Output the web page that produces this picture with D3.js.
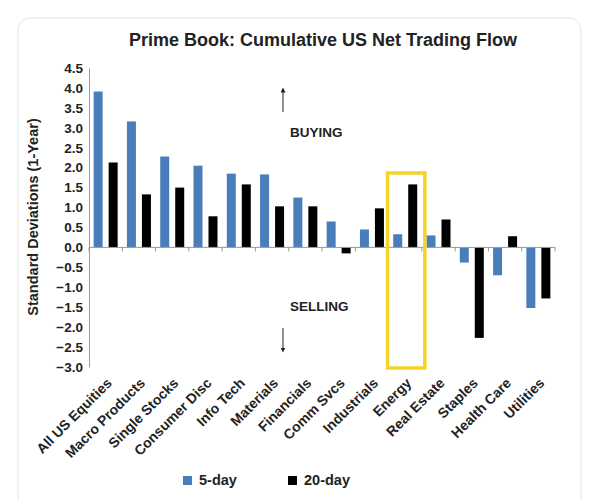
<!DOCTYPE html>
<html lang="en">
<head>
<meta charset="utf-8">
<script src="https://d3js.org/d3.v7.min.js"></script>
<style>
body { margin: 0; background: #fff; font-family: Arial, "Liberation Sans", sans-serif; }
.tick text { font-size: 13.5px; font-weight: bold; fill: #222; }
</style>
</head>
<body>
<div id="vis"></div>
<script>
const categories = ["All US Equities", "Macro Products", "Single Stocks", "Consumer Disc", "Info Tech",
  "Materials", "Financials", "Comm Svcs", "Industrials", "Energy", "Real Estate", "Staples", "Health Care", "Utilities"];
const fiveDay = [3.91, 3.16, 2.28, 2.05, 1.85, 1.83, 1.25, 0.65, 0.45, 0.33, 0.30, -0.38, -0.70, -1.52];
const twentyDay = [2.13, 1.33, 1.50, 0.78, 1.58, 1.03, 1.03, -0.15, 0.98, 1.58, 0.70, -2.27, 0.28, -1.28];
const yTicks = [4.5, 4.0, 3.5, 3.0, 2.5, 2.0, 1.5, 1.0, 0.5, 0.0, -0.5, -1.0, -1.5, -2.0, -2.5, -3.0];
const seriesNames = ["5-day", "20-day"];
const colors = ["#4a7ebb", "#000000"];

const width = 591, height = 500;
const svg = d3.select("#vis").append("svg").attr("width", width).attr("height", height);

svg.append("rect").attr("x", 18).attr("y", 18).attr("width", 563).attr("height", 500)
  .attr("rx", 12).attr("fill", "#fff").attr("stroke", "#e3e3e3");

const x = d3.scaleBand().domain(categories).range([89, 555]);
const y = d3.scaleLinear().domain([-3, 4.5]).range([367, 68]);
const barW = 9;

svg.append("text").attr("x", 323).attr("y", 46).attr("text-anchor", "middle")
  .attr("font-size", 18).attr("font-weight", "bold").attr("fill", "#222")
  .text("Prime Book: Cumulative US Net Trading Flow");

// y axis
const yAxis = svg.append("g").attr("transform", "translate(89,0)")
  .call(d3.axisLeft(y).tickValues(yTicks).tickFormat(d3.format(".1f")).tickSize(0).tickPadding(6));
yAxis.select(".domain").attr("stroke", "#999");

svg.append("text").attr("transform", "translate(38,217) rotate(-90)").attr("text-anchor", "middle")
  .attr("font-size", 14.5).attr("font-weight", "bold").attr("fill", "#222")
  .text("Standard Deviations (1-Year)");

// bars
[fiveDay, twentyDay].forEach((vals, s) => {
  svg.append("g").selectAll("rect").data(vals).enter().append("rect")
    .attr("x", (d, i) => x(categories[i]) + x.bandwidth() / 2 - barW - 3 + s * (barW + 6))
    .attr("y", d => y(Math.max(0, d)))
    .attr("width", barW)
    .attr("height", d => Math.abs(y(d) - y(0)))
    .attr("fill", colors[s]);
});

// zero axis
svg.append("line").attr("x1", 89).attr("x2", 555).attr("y1", y(0)).attr("y2", y(0)).attr("stroke", "#999");
svg.append("g").selectAll("line").data(categories.concat([null])).enter().append("line")
  .attr("x1", (d, i) => 89 + i * x.step()).attr("x2", (d, i) => 89 + i * x.step())
  .attr("y1", y(0)).attr("y2", y(0) + 4).attr("stroke", "#999");

// category labels
svg.append("g").selectAll("text").data(categories).enter().append("text")
  .attr("transform", d => `translate(${x(d) + x.bandwidth() / 2 + 7},384) rotate(-45)`)
  .attr("text-anchor", "end").attr("font-size", 14).attr("font-weight", "bold").attr("fill", "#222")
  .text(d => d);

// annotations
svg.append("defs").append("marker").attr("id", "ah").attr("viewBox", "0 0 10 10")
  .attr("refX", 5).attr("refY", 5).attr("markerWidth", 5).attr("markerHeight", 5).attr("orient", "auto")
  .append("path").attr("d", "M0,0L10,5L0,10z").attr("fill", "#222");
svg.append("line").attr("x1", 283).attr("x2", 283).attr("y1", 112).attr("y2", 90)
  .attr("stroke", "#222").attr("marker-end", "url(#ah)");
svg.append("line").attr("x1", 283).attr("x2", 283).attr("y1", 328).attr("y2", 350)
  .attr("stroke", "#222").attr("marker-end", "url(#ah)");
svg.append("text").attr("x", 290).attr("y", 137).attr("font-size", 13.5).attr("font-weight", "bold").attr("fill", "#222").text("BUYING");
svg.append("text").attr("x", 290).attr("y", 311).attr("font-size", 13.5).attr("font-weight", "bold").attr("fill", "#222").text("SELLING");

// highlight on Energy
svg.append("rect").attr("x", x("Energy") - 1).attr("y", 173).attr("width", x.step() + 4).attr("height", 195)
  .attr("fill", "none").attr("stroke", "#f5d327").attr("stroke-width", 3.5);

// legend
const leg = svg.append("g").selectAll("g").data(seriesNames).enter().append("g")
  .attr("transform", (d, i) => `translate(${183 + i * 105},476)`);
leg.append("rect").attr("width", 9).attr("height", 9).attr("fill", (d, i) => colors[i]);
leg.append("text").attr("x", 16).attr("y", 9).attr("font-size", 14.5).attr("font-weight", "bold").attr("fill", "#222").text(d => d);
</script>
</body>
</html>
